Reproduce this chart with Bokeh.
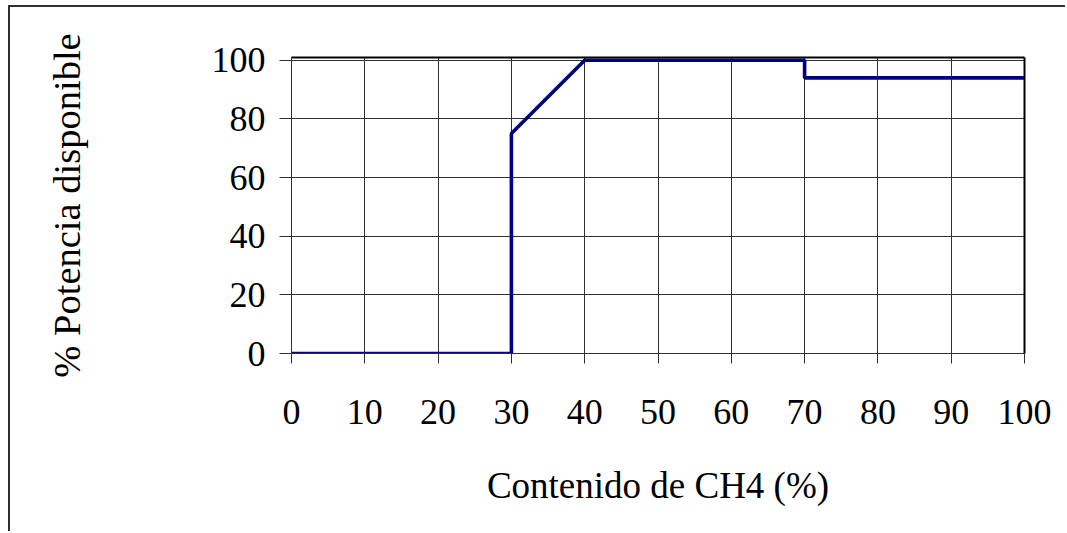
from bokeh.plotting import figure
from bokeh.models import LinearAxis, FixedTicker, Range1d
from bokeh.embed import file_html
from bokeh.resources import INLINE

# data
ch4 = [0, 30, 30, 40, 70, 70, 100]
potencia = [0, 0, 75, 100, 100, 94, 94]
x_ticks = [0, 10, 20, 30, 40, 50, 60, 70, 80, 90, 100]
y_ticks = [0, 20, 40, 60, 80, 100]
x_title = "Contenido de CH4 (%)"
y_title = "% Potencia disponible"

FONT = "Liberation Serif"

p = figure(width=1057, height=526, output_backend="svg", toolbar_location=None,
           x_range=Range1d(0, 100), y_range=Range1d(0, 100.95),
           min_border_left=281, min_border_right=43, min_border_top=50, min_border_bottom=180)
p.styles = {"border-left": "2px solid #303030", "border-top": "2px solid #303030",
            "margin-left": "8px", "margin-top": "5px"}
p.outline_line_color = None
p.background_fill_color = "white"
p.border_fill_color = "white"

p.line(ch4, potencia, line_color="#000080", line_width=3.6)

for ax in (p.xaxis[0], p.yaxis[0]):
    ax.axis_line_color = "#303030"
    ax.axis_line_width = 1
    ax.major_tick_line_color = "#303030"
    ax.major_tick_in = 0
    ax.minor_tick_line_color = None
    ax.major_label_text_font = FONT
    ax.major_label_text_font_size = "36px"
    ax.major_label_text_color = "black"
    ax.axis_label_text_font = FONT
    ax.axis_label_text_font_style = "normal"
    ax.axis_label_text_color = "black"

p.xaxis[0].axis_label_text_font_size = "37px"
p.yaxis[0].axis_label_text_font_size = "38.5px"
p.xaxis[0].ticker = FixedTicker(ticks=x_ticks)
p.yaxis[0].ticker = FixedTicker(ticks=y_ticks)
p.xaxis[0].axis_label = x_title
p.yaxis[0].axis_label = y_title
p.xaxis[0].major_tick_out = 10
p.yaxis[0].major_tick_out = 12
p.xaxis[0].major_label_standoff = 36
p.yaxis[0].major_label_standoff = 14
p.xaxis[0].axis_label_standoff = 38
p.yaxis[0].axis_label_standoff = 121

p.xgrid.ticker = FixedTicker(ticks=x_ticks)
p.ygrid.ticker = FixedTicker(ticks=y_ticks)
p.grid.grid_line_color = "#303030"
p.grid.grid_line_width = 1

for loc in ("above", "right"):
    ax = LinearAxis(ticker=FixedTicker(ticks=[]), axis_line_color="black", axis_line_width=2,
                    major_tick_line_color=None, minor_tick_line_color=None,
                    major_label_text_font_size="0px")
    p.add_layout(ax, loc)

open("out.html", "w").write(file_html(p, INLINE))
